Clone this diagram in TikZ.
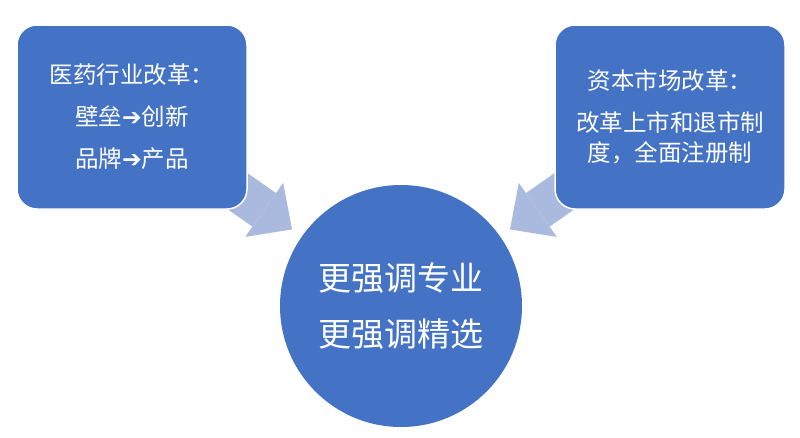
\documentclass[tikz,border=0pt]{standalone}
\usepackage{fontspec}
\setmainfont{Noto Sans CJK SC}
\newfontfamily\symfont{DejaVu Sans}
\usetikzlibrary{arrows.meta,backgrounds}
\definecolor{boxblue}{HTML}{4472C4}
\definecolor{arrowblue}{HTML}{AAB9DE}

\begin{document}
\begin{tikzpicture}[x=1pt,y=-1pt,
  box/.style={rectangle,rounded corners=20pt,fill=boxblue,draw=white,line width=1.5pt,
    minimum width=230pt,minimum height=184pt,text=white,align=center,inner sep=0pt},
  hub/.style={circle,fill=boxblue,minimum size=242pt,text=white,align=center,inner sep=0pt},
  bigarrow/.style={draw=arrowblue,line width=41pt,
    -{Triangle[length=34pt,width=66pt,line width=0pt]},shorten >=12pt}]
 \useasboundingbox (0,0) rectangle (800,437);
 \node[box,font=\fontsize{23.5}{42}\selectfont] (a1) at (132,117)
   {医药行业改革：\\ 壁垒{\symfont\bfseries ➔}创新\\ 品牌{\symfont\bfseries ➔}产品};
 \node[box,font=\fontsize{23.5}{30}\selectfont] (a2) at (670,117)
   {资本市场改革：\\[12pt] 改革上市和退市制\\ 度，全面注册制};
  \node[hub,font=\fontsize{33}{56}\selectfont] (a3) at (401,306)
   {更强调专业\\ 更强调精选};
 \begin{scope}[on background layer]
 \draw[bigarrow] (a1.center) -- (a3);
 \draw[bigarrow] (a2.center) -- (a3);
 \end{scope}
\end{tikzpicture}
\end{document}
